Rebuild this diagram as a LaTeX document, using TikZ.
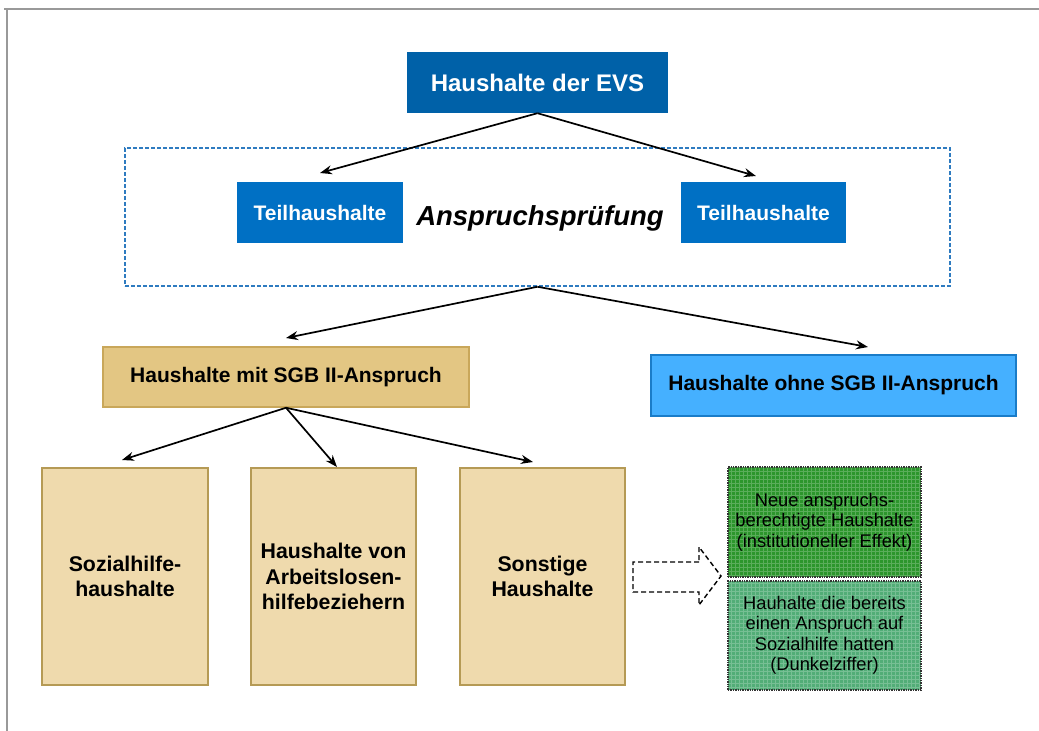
\documentclass[tikz,border=0pt]{standalone}
\usepackage{fontspec}
\setmainfont{Liberation Sans}
\usetikzlibrary{arrows.meta}
\definecolor{evsblue}{HTML}{0061A8}
\definecolor{teilblue}{HTML}{0070C4}
\definecolor{ohneblue}{HTML}{45B0FF}
\definecolor{ohneborder}{HTML}{1A7CC8}
\definecolor{mitfill}{HTML}{E3C683}
\definecolor{mitborder}{HTML}{C9A75A}
\definecolor{subfill}{HTML}{EFDAAD}
\definecolor{subborder}{HTML}{B59A55}
\definecolor{dashblue}{HTML}{2E7BC0}
\definecolor{greenA}{HTML}{2C962C}
\definecolor{greenB}{HTML}{52AD77}
\definecolor{framegray}{HTML}{999999}
\tikzset{
  box/.style={rectangle, inner sep=0pt, align=center, font=\bfseries},
  conn/.style={line width=1.7pt, -{Stealth[length=12pt,width=9pt]}},
  greenbox/.style={rectangle, inner sep=0pt, align=center, draw=black!80, line width=1.4pt, densely dotted,
    minimum width=193pt, minimum height=110pt, font=\fontsize{18.3}{20.5}\selectfont,
    path picture={\draw[solid, step=4pt, white, opacity=.22, line width=.6pt] (path picture bounding box.south west) grid (path picture bounding box.north east);}},
}
\begin{document}
\begin{tikzpicture}[x=1pt,y=-1pt]
\useasboundingbox (0,0) rectangle (1039,731);
% frame
\draw[framegray, line width=2pt] (4,9) -- (1039,9);
\draw[framegray, line width=2pt] (7,9) -- (7,731);

% top
\node[box, fill=evsblue, text=white, minimum width=261pt, minimum height=61pt, font=\bfseries\fontsize{24}{28}\selectfont] (evs) at (537.5,82.5) {Haushalte der EVS};

% dashed region
\node[draw=dashblue, line width=1.5pt, dash pattern=on 4pt off 2pt, minimum width=825pt, minimum height=138pt, inner sep=0pt] (pruef) at (537.5,217) {};
\node[font=\bfseries\itshape\fontsize{27.5}{32}\selectfont] (label) at (540,218) {Anspruchsprüfung};
\node[box, fill=teilblue, text=white, minimum width=166pt, minimum height=61pt, font=\bfseries\fontsize{21}{25}\selectfont] (tl) at (320,212.5) {Teilhaushalte};
\node[box, fill=teilblue, text=white, minimum width=165pt, minimum height=61pt, font=\bfseries\fontsize{21}{25}\selectfont] (tr) at (763.5,212.5) {Teilhaushalte};

\coordinate (tlend) at (320,173);
\coordinate (trend) at (756,176);
\draw[conn] (evs.south) -- (tlend);
\draw[conn] (evs.south) -- (trend);

% level 2
\node[box, fill=mitfill, draw=mitborder, line width=1.5pt, minimum width=366pt, minimum height=60pt, font=\bfseries\fontsize{21}{25}\selectfont] (mit) at (286,377) {Haushalte mit SGB II-Anspruch};
\node[box, fill=ohneblue, draw=ohneborder, line width=1.5pt, minimum width=365pt, minimum height=61pt, font=\bfseries\fontsize{21}{25}\selectfont] (ohne) at (833.5,385.5) {Haushalte ohne SGB II-Anspruch};

\coordinate (mitend) at (286,338);
\coordinate (ohneend) at (868,347);
\draw[conn] (pruef.south) -- (mitend);
\draw[conn] (pruef.south) -- (ohneend);

% level 3
\node[box, fill=subfill, draw=subborder, line width=1.5pt, minimum width=166pt, minimum height=217pt, font=\bfseries\fontsize{21.3}{25.5}\selectfont] (s1) at (125,576.5) {Sozialhilfe-\\haushalte};
\node[box, fill=subfill, draw=subborder, line width=1.5pt, minimum width=165pt, minimum height=217pt, font=\bfseries\fontsize{21.3}{25.5}\selectfont] (s2) at (333.5,576.5) {Haushalte von\\Arbeitslosen-\\hilfebeziehern};
\node[box, fill=subfill, draw=subborder, line width=1.5pt, minimum width=165pt, minimum height=217pt, font=\bfseries\fontsize{21.3}{25.5}\selectfont] (s3) at (542.5,576.5) {Sonstige\\Haushalte};

\coordinate (s1end) at (122,460);
\coordinate (s2end) at (337,467);
\coordinate (s3end) at (533,462);
\draw[conn] (mit.south) -- (s1end);
\draw[conn] (mit.south) -- (s2end);
\draw[conn] (mit.south) -- (s3end);

% dashed block arrow
\draw[black, line width=1.4pt, dash pattern=on 5pt off 3pt, line join=miter]
  (699,562) -- (633,562) -- (633,592) -- (699,592) -- (699,605) -- (721,576) -- (699,547) -- cycle;

% green boxes
\node[greenbox, fill=greenA] (g1) at (824.5,522) {Neue anspruchs-\\berechtigte Haushalte\\(institutioneller Effekt)};
\node[greenbox, fill=greenB, minimum height=109pt] (g2) at (824.5,635.5) {Hauhalte die bereits\\einen Anspruch auf\\Sozialhilfe hatten\\(Dunkelziffer)};
\end{tikzpicture}
\end{document}
